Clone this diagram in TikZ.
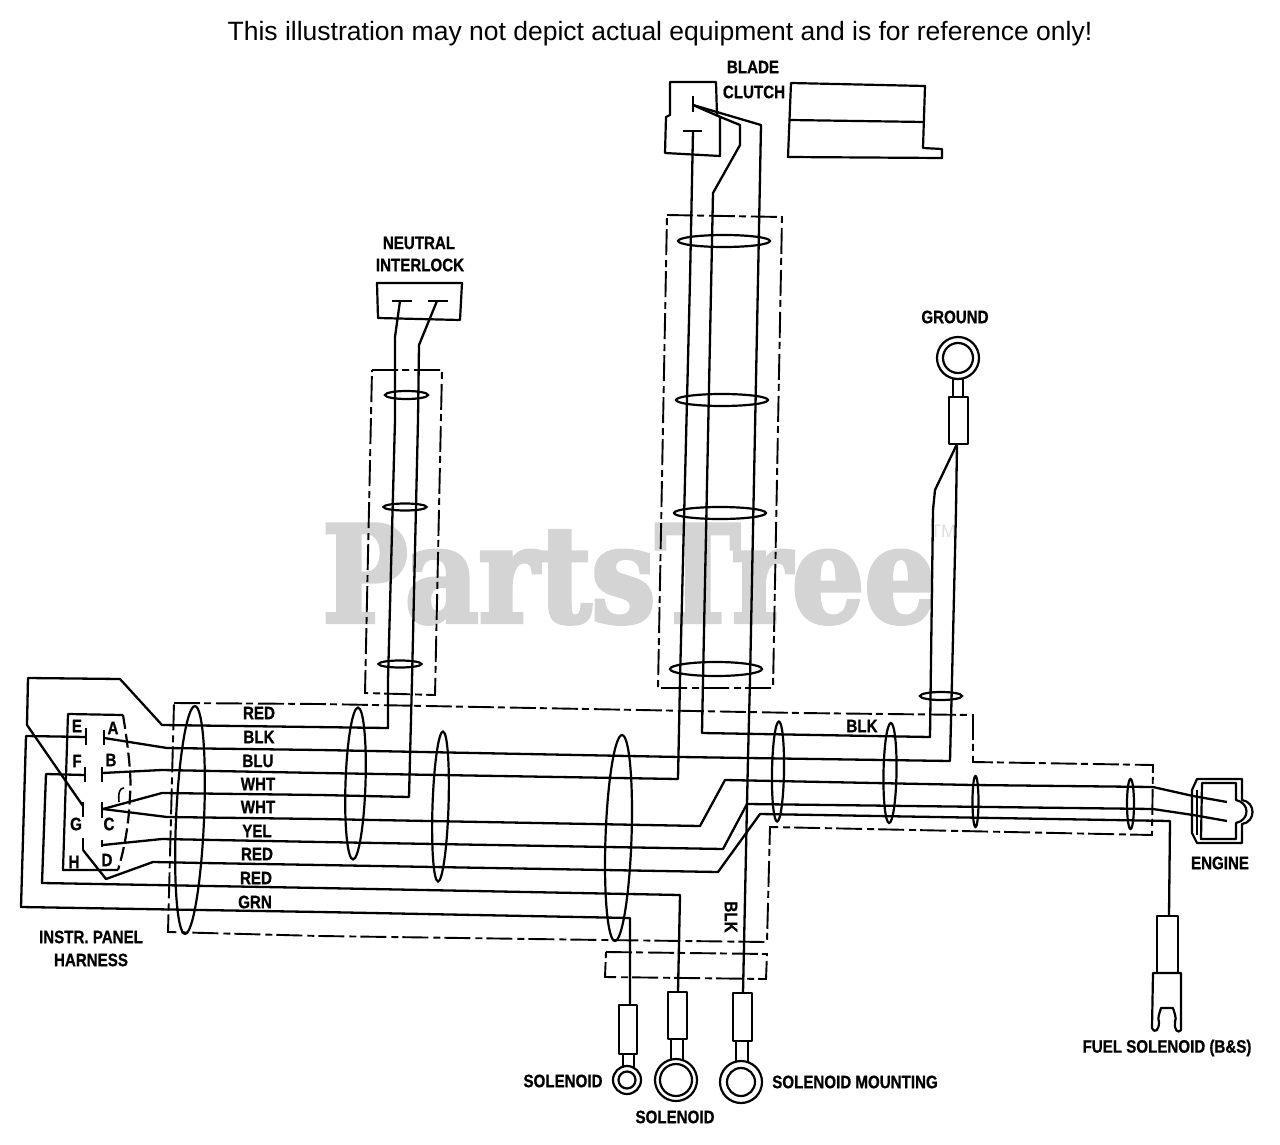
\documentclass[tikz,border=0pt]{standalone}
\usepackage{fontspec}
\setmainfont{Liberation Sans}
\newfontfamily\lblf{Liberation Sans Bold}[FakeStretch=0.84,FakeBold=0.8]
\newfontfamily\wmf{DejaVu Serif Bold}[FakeStretch=0.85,FakeBold=3]
\tikzset{
  wire/.style={draw=black,line width=2.3pt,line join=round},
  part/.style={draw=black,line width=2.2pt,line join=round,fill=white},
  outline/.style={draw=black,line width=2.2pt,line join=round},
  harness/.style={draw=black,line width=1.9pt,dash pattern=on 26pt off 4pt on 7pt off 5pt},
  tiering/.style={draw=black,line width=2.2pt},
  lbl/.style={inner sep=0pt,font=\lblf\fontsize{18}{20}\selectfont},
}
\newcommand{\tiewrap}[6][0]{\draw[tiering,shift={(#2,#3)},rotate=#1] (0,0) ellipse [x radius=#4pt,y radius=#5pt];}
\begin{document}
\begin{tikzpicture}[x=1pt,y=-1pt]
\useasboundingbox (0,0) rectangle (1280,1145);
% watermark
\node[inner sep=0pt,text=black!17,anchor=base west] (wm) at (322,622) {\wmf\fontsize{134}{134}\selectfont PartsTree};
\node[inner sep=0pt,text=black!13,font=\fontsize{18}{18}\selectfont] (tm) at (943,531) {TM};
% title
\node[inner sep=0pt,font=\fontsize{26.5}{30}\selectfont] (title) at (660,34) {This illustration may not depict actual equipment and is for reference only!};

% harness outlines
\draw[harness] (174,703) -- (320,704) -- (800,713) -- (973,715) -- (973,762) -- (1153,765) -- (1152,835) -- (770,827) -- (767,942) -- (603,940) -- (320,936) -- (168,932) -- cycle;
\draw[harness] (606,952) -- (767,954) -- (766,979) -- (605,977) -- cycle;
\draw[harness] (372,370) -- (442,370) -- (435,695) -- (365,693) -- cycle;
\draw[harness] (667,215) -- (782,217) -- (773,688) -- (658,688) -- cycle;

% instrument panel connector
\draw[outline] (123,715) -- (68,714) -- (63,870) -- (118,870);
\draw[outline,dash pattern=on 14pt off 5pt] (123,715) .. controls (128,745) and (132,780) .. (130,795) .. controls (129,825) and (124,850) .. (118,870);
\draw[line width=1.6pt] (119,802) .. controls (118,792) and (120,788) .. (124,788);
\foreach \n/\xa/\ya/\xb/\yb in {bE/86/728/86/745,bF/85/767/85/782,bG/83/802/83/817,bH/83/838/83/850,
  bA/104/730/104/745,bB/102/767/102/782,bC/102/802/102/818,bD/102/840/102/847}{
  \draw[line width=2.2pt] (\xa,\ya) coordinate (\n) -- (\xb,\yb);
}
\coordinate (tE) at (86,737); \coordinate (tF) at (85,775); \coordinate (tG) at (83,806);
\coordinate (tH) at (83,850); \coordinate (tA) at (104,738); \coordinate (tB) at (102,773);
\coordinate (tC) at (103,809); \coordinate (tD) at (103,845);

% interlock box + terminals
\draw[outline] (377,283) -- (462,283) -- (460,320) -- (378,318) -- cycle;
\draw[line width=2.2pt] (392,301) -- (412,301);
\draw[line width=2.2pt] (428,301) -- (448,301);
\coordinate (tN1) at (400,301); \coordinate (tN2) at (437,301);

% blade clutch connector + block
\draw[outline] (670,82) -- (716,82) -- (717,115) -- (720,117) -- (720,156) -- (665,153) -- (666,117) -- (670,115) -- cycle;
\draw[line width=2.2pt] (693,96) -- (693,112);
\draw[line width=2.2pt] (683,131) -- (702,131);
\coordinate (tK1) at (693,105); \coordinate (tK2) at (693,131);
\draw[outline] (791,83) -- (925,86) -- (923,148) -- (942,149) -- (942,158) -- (788,157) -- cycle;
\draw[outline] (790,120) -- (925,122);

% engine connector
\draw[outline] (1197,779) -- (1242,779) -- (1242,800) .. controls (1256,802) and (1256,822) .. (1242,824) -- (1242,843) -- (1197,843) -- (1192,833) -- (1192,790) -- cycle;
\draw[outline] (1202,783) -- (1236,783) -- (1236,800) .. controls (1250,803) and (1250,820) .. (1236,823) -- (1236,839) -- (1201,839) -- cycle;
\draw[line width=1.6pt] (1197,790) -- (1197,835);
\coordinate (tX1) at (1227,802); \coordinate (tX2) at (1227,821);

% lugs
\coordinate (gnd) at (957,444);
\coordinate (s1) at (630,1005); \coordinate (s2) at (678,992); \coordinate (s3) at (743,993);
\coordinate (fs) at (1169,916);

% wires
\draw[wire] (tG) -- (27,725) -- (28,678) -- (120,679) -- (162,725) -- (388,728) -- (388,680) -- (395,420) -- (395,337) -- (tN1);
\draw[wire] (tA) -- (167,748) -- (320,750) -- (680,757) -- (748,758) -- (950,761) -- (952,680) -- (956,510) -- (gnd);
\draw[wire] (tB) -- (162,770) -- (320,773) -- (678,779) -- (680,680) -- (690,280) -- (tK2);
\draw[wire] (tC) -- (162,793) -- (320,795) -- (409,797) -- (412,680) -- (418,420) -- (419,345) -- (tN2);
\draw[wire] (tC) -- (167,817) -- (320,819) -- (700,826) -- (725,780) -- (973,785) -- (1153,787) -- (1193,796) -- (tX1);
\draw[wire] (tD) -- (162,839) -- (320,842) -- (723,849) -- (747,804) -- (1153,809) -- (1193,815) -- (tX2);
\draw[wire] (tH) -- (106,879) -- (153,862) -- (203,863) -- (320,865) -- (718,872) -- (760,814) -- (1170,821) -- (fs);
\draw[wire] (tF) -- (46,774) -- (42,883) -- (320,888) -- (680,895) -- (s2);
\draw[wire] (tE) -- (26,736) -- (21,907) -- (320,912) -- (630,918) -- (s1);
\draw[wire] (tK1) -- (718,116) -- (740,125) -- (740,145) -- (713,193) -- (703,680) -- (702,733) -- (930,737) -- (933,510) -- (935,490) -- (gnd);
\draw[wire] (tK1) -- (761,125) -- (758,280) -- (750,680) -- (748,758) -- (747,804) -- (s3);

% harness ties
\tiewrap[-2.5]{190}{820}{14}{114}{}
\tiewrap[-1.9]{355.5}{783.5}{10}{76}{}
\tiewrap[-1.9]{440.5}{806.5}{8}{75}{}
\tiewrap[-2]{618.5}{838}{13}{103}{}
\tiewrap[-1]{778}{771.5}{6}{50}{}
\tiewrap[-1]{890}{773}{6.5}{50}{}
\tiewrap{975.5}{801.5}{3}{25.5}{}
\tiewrap{1130.5}{804}{3.5}{25}{}
\tiewrap{941}{696}{21}{4}{}
\tiewrap{724}{241}{46}{6}{}
\tiewrap{722}{400}{46}{6}{}
\tiewrap{720}{513}{46}{6}{}
\tiewrap{716}{669}{46}{7}{}
\tiewrap{406.5}{395}{21.5}{4}{}
\tiewrap{405}{507}{21.5}{3.5}{}
\tiewrap{400}{664}{21.5}{3.5}{}

% ring terminals
\draw[outline] (953,378) -- (953,397); \draw[outline] (963,378) -- (963,397);
\draw[part] (949,397) rectangle (968,444);
\draw[outline] (958,358) circle [radius=21pt]; \draw[outline] (958,358) circle [radius=15pt];

\draw[outline] (623,1054) -- (623,1068); \draw[outline] (634,1054) -- (634,1068);
\draw[part] (619,1005) rectangle (637,1054);
\draw[outline] (627,1080) circle [radius=14pt]; \draw[outline] (627,1080) circle [radius=8.5pt];

\draw[outline] (671,1039) -- (671,1060); \draw[outline] (683,1039) -- (683,1060);
\draw[part] (668,992) rectangle (687,1039);
\draw[outline] (676,1080) circle [radius=21pt]; \draw[outline] (676,1080) circle [radius=16pt];

\draw[outline] (736,1041) -- (736,1062); \draw[outline] (748,1041) -- (748,1062);
\draw[part] (733,993) rectangle (752,1041);
\draw[outline] (741,1082) circle [radius=21pt]; \draw[outline] (741,1082) circle [radius=14pt];

% fuel solenoid spade
\draw[part] (1157,916) rectangle (1178,973);
\draw[outline] (1153,973) -- (1181,973) -- (1181,1030) .. controls (1178,1034) and (1174,1030) .. (1175,1022) .. controls (1177,1018) and (1174,1012) .. (1173,1008) -- (1161,1008) .. controls (1160,1012) and (1157,1018) .. (1159,1022) .. controls (1159,1030) and (1155,1034) .. (1152,1028) -- cycle;

% labels
\node[lbl] (lr1) at (259,713) {RED};
\node[lbl] (lb1) at (259,737) {BLK};
\node[lbl] (lb2) at (258,761) {BLU};
\node[lbl] (lw1) at (258,784) {WHT};
\node[lbl] (lw2) at (258,807) {WHT};
\node[lbl] (ly1) at (257,831) {YEL};
\node[lbl] (lr2) at (257,854) {RED};
\node[lbl] (lr3) at (256,878) {RED};
\node[lbl] (lg1) at (255,902) {GRN};
\node[lbl] (lE) at (77,726) {E};
\node[lbl] (lA) at (113,728) {A};
\node[lbl] (lF) at (77,761) {F};
\node[lbl] (lB) at (111,760) {B};
\node[lbl] (lG) at (76,824) {G};
\node[lbl] (lC) at (109,824) {C};
\node[lbl] (lH) at (74,862) {H};
\node[lbl] (lD) at (107,860) {D};
\node[lbl] (lip) at (91,937) {INSTR. PANEL};
\node[lbl] (lih) at (91,960) {HARNESS};
\node[lbl] (ln1) at (419,243) {NEUTRAL};
\node[lbl] (ln2) at (420,265) {INTERLOCK};
\node[lbl] (lbc1) at (753,67) {BLADE};
\node[lbl] (lbc2) at (754,92) {CLUTCH};
\node[lbl] (lgnd) at (955,317) {GROUND};
\node[lbl] (lblk) at (862,726) {BLK};
\node[lbl,rotate=-90] (lblk2) at (731,917) {BLK};
\node[lbl] (leng) at (1220,863) {ENGINE};
\node[lbl] (lfs) at (1167,1048) {FUEL SOLENOID (B\&S)};
\node[lbl] (ls1) at (563,1081) {SOLENOID};
\node[lbl] (ls2) at (675,1117) {SOLENOID};
\node[lbl] (lsm) at (855,1082) {SOLENOID MOUNTING};
\end{tikzpicture}
\end{document}
